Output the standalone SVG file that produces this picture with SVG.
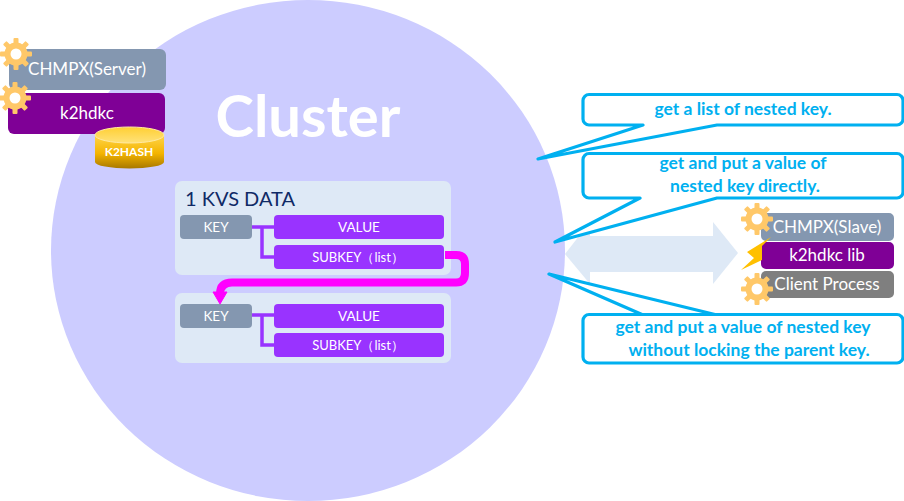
<svg xmlns="http://www.w3.org/2000/svg" width="904" height="501" viewBox="0 0 904 501">
<defs>
<style>
text{font-family:"Lato","Carlito","Liberation Sans",sans-serif;text-anchor:middle}
.w{fill:#fff}
.slate{fill:#8497b0}
.purple{fill:#7f0096}
.v{fill:#9933ff}
.panel{fill:#dee9f6}
.call{fill:#fff;stroke:#00b0f0;stroke-width:3.2;stroke-linejoin:round}
.ct{fill:#00b0f0;font-size:17.500px;font-weight:700}
.link{fill:none;stroke:#9933ff;stroke-width:3.500}
.s{font-size:13.500px;fill:#fff}
.sk{font-size:13px;fill:#fff}
</style>
<g id="gear">
<g fill="#ffc869">
<rect x="-2.500" y="-16" width="5" height="32" rx="1"/>
<rect x="-2.500" y="-16" width="5" height="32" rx="1" transform="rotate(45)"/>
<rect x="-2.500" y="-16" width="5" height="32" rx="1" transform="rotate(90)"/>
<rect x="-2.500" y="-16" width="5" height="32" rx="1" transform="rotate(135)"/>
<circle r="11.500"/>
</g>
<circle r="5.500" fill="#fff"/>
</g>
<linearGradient id="cyl" x1="0" y1="0" x2="0" y2="1">
<stop offset="0" stop-color="#ffd54a"/><stop offset=".55" stop-color="#f4b400"/><stop offset="1" stop-color="#a87800"/>
</linearGradient>
<linearGradient id="cyltop" x1="0" y1="0" x2="0" y2="1">
<stop offset="0" stop-color="#ffcf33"/><stop offset="1" stop-color="#ffe27a"/>
</linearGradient>
</defs>
<g id="cluster">
<ellipse cx="308" cy="250.500" rx="257" ry="250.500" fill="#ccccff"/>
<text x="308" y="137" class="w" font-size="58" font-weight="700">Cluster</text>
</g>
<g id="chmpx-server">
<rect x="9" y="49" width="157" height="41" rx="6" class="slate"/>
<text x="87" y="75" class="w" font-size="17">CHMPX(Server)</text>
<use href="#gear" x="16" y="54"/>
</g>
<g id="k2hdkc">
<rect x="8" y="93" width="157" height="41" rx="6" class="purple"/>
<text x="87" y="119" class="w" font-size="17">k2hdkc</text>
<use href="#gear" x="15" y="98"/>
</g>
<g id="k2hash">
<path d="M95 135v27a34.500 6.500 0 0 0 69 0v-27z" fill="url(#cyl)"/>
<ellipse cx="129.500" cy="135" rx="34.500" ry="8" fill="url(#cyltop)" stroke="#ffe9a0"/>
<text x="129" y="156" class="w" font-size="12" font-weight="700">K2HASH</text>
</g>
<g id="kvs-1">
<rect x="175" y="181" width="276" height="94" rx="7" class="panel"/>
<text x="240" y="206" font-size="20" fill="#0f2a66">1 KVS DATA</text>
</g>
<g id="kvs-2">
<rect x="175" y="293" width="276" height="70" rx="7" class="panel"/>
</g>
<g id="connectors">
<path class="link" d="M252 227H274M262 227V257H274"/>
<path class="link" d="M252 315H274M262 315V345H274"/>
<path d="M445 255H456Q465 255 465 264V273Q465 282.500 456 282.500H232Q220 282.500 220 294" fill="none" stroke="#ff00ff" stroke-width="8"/>
<path d="M213 292L220 304L227 292Z" fill="#ff00ff" stroke="#ff00ff" stroke-width="1"/>
</g>
<g id="kvs-1-key"><rect x="180" y="215" width="72" height="24" rx="4" class="slate"/><text x="216" y="232" class="s">KEY</text></g>
<g id="kvs-1-value"><rect x="274" y="215" width="170" height="24" rx="4" class="v"/><text x="359" y="232" class="s">VALUE</text></g>
<g id="kvs-1-subkey"><rect x="274" y="245" width="170" height="24" rx="4" class="v"/><text x="358" y="262" class="sk">SUBKEY（list）</text></g>
<g id="kvs-2-key"><rect x="180" y="304" width="72" height="24" rx="4" class="slate"/><text x="216" y="321" class="s">KEY</text></g>
<g id="kvs-2-value"><rect x="274" y="304" width="170" height="24" rx="4" class="v"/><text x="359" y="321" class="s">VALUE</text></g>
<g id="kvs-2-subkey"><rect x="274" y="333" width="170" height="24" rx="4" class="v"/><text x="358" y="350" class="sk">SUBKEY（list）</text></g>
<g id="double-arrow">
<path d="M565 254L590 222V236H713V222L738 253L713 284V272H590V284Z" fill="#dee9f6"/>
</g>
<g id="callout-1">
<path class="call" d="M589 94.500H897a6 6 0 0 1 6 6V119a6 6 0 0 1-6 6H717L538 159L643 125H589a6 6 0 0 1-6-6V100.500a6 6 0 0 1 6-6Z"/>
<text x="743" y="115" class="ct">get a list of nested key.</text>
</g>
<g id="callout-2">
<path class="call" d="M589 153.500H897a6 6 0 0 1 6 6V192a6 6 0 0 1-6 6H717L555 242L640 198H589a6 6 0 0 1-6-6V159.500a6 6 0 0 1 6-6Z"/>
<text x="743" y="169" class="ct">get and put a value of</text>
<text x="745" y="192" class="ct">nested key directly.</text>
</g>
<g id="callout-3">
<path class="call" d="M589 314.500H897a6 6 0 0 1 6 6V357a6 6 0 0 1-6 6H589a6 6 0 0 1-6-6V320.500a6 6 0 0 1 6-6H642L549 274L715 314.500Z"/>
<text x="743" y="333" class="ct">get and put a value of nested key</text>
<text x="749" y="356" class="ct">without locking the parent key.</text>
</g>
<g id="chmpx-slave">
<rect x="761" y="213" width="133" height="28" rx="5" class="slate"/>
<use href="#gear" x="757" y="219"/>
<text x="827" y="233" class="w" font-size="17">CHMPX(Slave)</text>
</g>
<g id="k2hdkc-lib">
<rect x="761" y="242" width="133" height="27" rx="5" class="purple"/>
<text x="827" y="261" class="w" font-size="17">k2hdkc lib</text>
</g>
<g id="lightning">
<path d="M771 237L747 252L754 258L741 270L762 260V246Z" fill="#ffc000"/>
</g>
<g id="client-process">
<rect x="761" y="271" width="133" height="27" rx="5" fill="#7f7f7f"/>
<use href="#gear" x="757" y="289"/>
<text x="827" y="290" class="w" font-size="17">Client Process</text>
</g>
</svg>
